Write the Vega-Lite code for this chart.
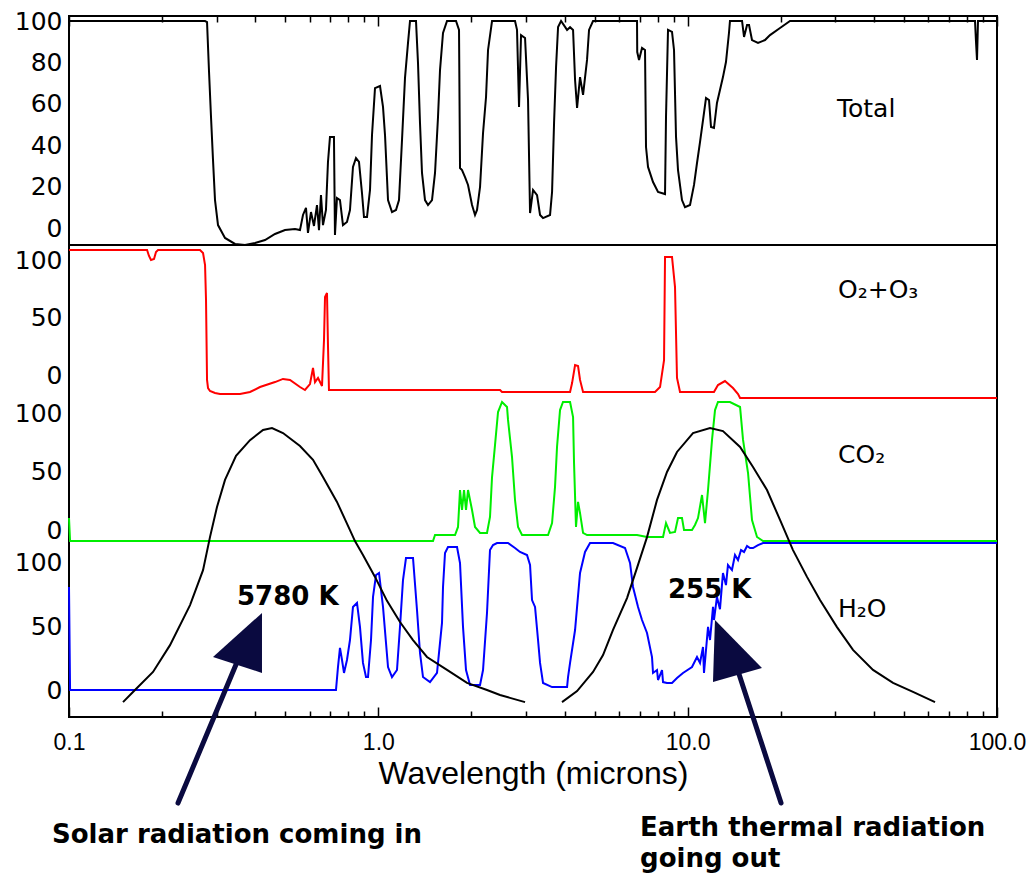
{
  "$schema": "https://vega.github.io/schema/vega-lite/v6.json",
  "autosize": {"type": "none"},
  "width": 928,
  "height": 701,
  "padding": {"left": 69, "top": 16, "right": 38, "bottom": 158},
  "background": "white",
  "config": {
    "view": {"stroke": "black", "strokeWidth": 2},
    "axis": {"grid": false, "domain": false}
  },
  "datasets": {
    "total": [
      {"w":0.1,"v":100},{"w":0.2753,"v":100},{"w":0.2794,"v":99.5},{"w":0.2836,"v":75.4},{"w":0.2878,"v":53.6},{"w":0.2921,"v":32.9},{"w":0.2965,"v":13.5},{"w":0.3032,"v":1.4},{"w":0.3194,"v":-4.8},{"w":0.3441,"v":-7.7},{"w":0.3707,"v":-8.2},{"w":0.3994,"v":-7.2},{"w":0.4302,"v":-5.8},{"w":0.4634,"v":-2.9},{"w":0.4992,"v":-1.0},{"w":0.5378,"v":-0.5},{"w":0.5581,"v":-1.0},{"w":0.5707,"v":6.3},{"w":0.5836,"v":9.7},{"w":0.5923,"v":-2.4},{"w":0.6057,"v":7.7},{"w":0.6194,"v":1.0},{"w":0.6334,"v":11.1},{"w":0.6429,"v":-1.0},{"w":0.6525,"v":15.9},{"w":0.6623,"v":1.4},{"w":0.6772,"v":8.7},{"w":0.6874,"v":31.9},{"w":0.6977,"v":44.0},{"w":0.7187,"v":44.0},{"w":0.7241,"v":-3.4},{"w":0.735,"v":14.5},{"w":0.7516,"v":13.5},{"w":0.7686,"v":1.4},{"w":0.7918,"v":2.9},{"w":0.8097,"v":8.7},{"w":0.828,"v":29.5},{"w":0.8467,"v":33.8},{"w":0.8659,"v":31.9},{"w":0.8854,"v":16.9},{"w":0.8987,"v":5.3},{"w":0.9191,"v":5.3},{"w":0.9399,"v":18.4},{"w":0.954,"v":44.9},{"w":0.9755,"v":67.6},{"w":1.0125,"v":68.6},{"w":1.0354,"v":58.5},{"w":1.051,"v":44.9},{"w":1.0747,"v":13.5},{"w":1.1071,"v":7.7},{"w":1.1405,"v":8.7},{"w":1.1663,"v":13.5},{"w":1.1927,"v":42.5},{"w":1.2196,"v":72.5},{"w":1.2472,"v":89.4},{"w":1.2659,"v":100},{"w":1.3236,"v":100},{"w":1.3435,"v":79.7},{"w":1.3636,"v":50.7},{"w":1.3841,"v":26.6},{"w":1.4154,"v":13.5},{"w":1.4474,"v":11.1},{"w":1.4912,"v":13.5},{"w":1.5249,"v":26.6},{"w":1.5593,"v":53.6},{"w":1.5827,"v":76.3},{"w":1.6184,"v":94.2},{"w":1.6673,"v":100},{"w":1.7829,"v":100},{"w":1.8232,"v":95.7},{"w":1.8368,"v":29.0},{"w":1.8644,"v":28.0},{"w":1.9066,"v":24.6},{"w":1.9497,"v":20.8},{"w":2.0086,"v":11.1},{"w":2.0539,"v":6.3},{"w":2.0848,"v":8.7},{"w":2.132,"v":19.8},{"w":2.1801,"v":45.9},{"w":2.2293,"v":63.3},{"w":2.2628,"v":86.0},{"w":2.3311,"v":100},{"w":2.766,"v":100},{"w":2.8076,"v":95.7},{"w":2.85,"v":58.5},{"w":2.8929,"v":93.2},{"w":2.9805,"v":91.8},{"w":3.0477,"v":61.8},{"w":3.0936,"v":7.2},{"w":3.1634,"v":18.4},{"w":3.259,"v":15.9},{"w":3.3325,"v":6.3},{"w":3.4077,"v":4.8},{"w":3.59,"v":6.3},{"w":3.6442,"v":17.4},{"w":3.6989,"v":50.7},{"w":3.7545,"v":77.8},{"w":3.811,"v":97.1},{"w":3.8971,"v":100},{"w":4.0751,"v":95.7},{"w":4.1668,"v":97.0},{"w":4.261,"v":95.7},{"w":4.325,"v":71.5},{"w":4.39,"v":58.0},{"w":4.488,"v":72.9},{"w":4.59,"v":64.3},{"w":4.728,"v":81.2},{"w":4.799,"v":95.7},{"w":4.944,"v":100},{"w":6.859,"v":100},{"w":6.87,"v":85.0},{"w":6.962,"v":81.2},{"w":7.119,"v":87.0},{"w":7.28,"v":86.0},{"w":7.334,"v":39.1},{"w":7.444,"v":29.5},{"w":7.727,"v":22.2},{"w":8.02,"v":17.4},{"w":8.449,"v":16.4},{"w":8.511,"v":53.6},{"w":8.639,"v":95.7},{"w":8.9,"v":94.7},{"w":9.034,"v":86.0},{"w":9.17,"v":44.0},{"w":9.307,"v":28.0},{"w":9.586,"v":13.5},{"w":9.803,"v":10.1},{"w":10.177,"v":11.1},{"w":10.484,"v":20.8},{"w":10.72,"v":31.4},{"w":10.962,"v":41.5},{"w":11.293,"v":55.6},{"w":11.463,"v":62.8},{"w":11.722,"v":61.8},{"w":11.898,"v":48.8},{"w":12.163,"v":48.3},{"w":12.437,"v":60.4},{"w":12.718,"v":66.7},{"w":13.005,"v":72.9},{"w":13.299,"v":80.2},{"w":13.599,"v":94.2},{"w":13.701,"v":100},{"w":14.99,"v":100},{"w":15.214,"v":92.3},{"w":15.558,"v":98.1},{"w":15.79,"v":98.1},{"w":16.144,"v":90.8},{"w":16.881,"v":89.4},{"w":17.783,"v":90.8},{"w":18.459,"v":93.2},{"w":19.887,"v":96.6},{"w":21.425,"v":100},{"w":84.9,"v":100},{"w":85.53,"v":90.0},{"w":86.17,"v":81.2},{"w":86.81,"v":100},{"w":100,"v":100}
    ],
    "o2": [
      {"w":0.1,"v":100},{"w":0.1788,"v":100},{"w":0.1814,"v":95.8},{"w":0.1841,"v":93.0},{"w":0.1883,"v":93.7},{"w":0.1911,"v":98.6},{"w":0.194,"v":100},{"w":0.2651,"v":100},{"w":0.2712,"v":97.9},{"w":0.2753,"v":89.4},{"w":0.2773,"v":64.8},{"w":0.2794,"v":8.5},{"w":0.2815,"v":2.8},{"w":0.2856,"v":0.7},{"w":0.2965,"v":-0.7},{"w":0.3077,"v":-1.4},{"w":0.3571,"v":-1.4},{"w":0.3847,"v":0},{"w":0.4144,"v":3.5},{"w":0.4634,"v":7.0},{"w":0.4918,"v":9.2},{"w":0.5182,"v":8.5},{"w":0.5581,"v":3.5},{"w":0.5792,"v":1.4},{"w":0.6012,"v":5.6},{"w":0.6149,"v":16.9},{"w":0.6242,"v":7.0},{"w":0.6383,"v":9.9},{"w":0.6575,"v":4.2},{"w":0.6674,"v":36.6},{"w":0.6724,"v":66.9},{"w":0.6824,"v":69.7},{"w":0.6874,"v":33.1},{"w":0.6925,"v":1.4},{"w":2.474,"v":1.4},{"w":2.511,"v":0},{"w":4.1668,"v":0},{"w":4.23,"v":6.3},{"w":4.325,"v":19.0},{"w":4.422,"v":18.3},{"w":4.488,"v":8.5},{"w":4.59,"v":0},{"w":7.843,"v":0},{"w":8.141,"v":3.5},{"w":8.387,"v":22.5},{"w":8.449,"v":95.1},{"w":8.9,"v":95.1},{"w":9.101,"v":73.9},{"w":9.237,"v":9.9},{"w":9.447,"v":0},{"w":12.163,"v":0},{"w":12.53,"v":4.9},{"w":13.2,"v":7.7},{"w":14.01,"v":2.8},{"w":14.55,"v":-1.4},{"w":14.77,"v":-4.2},{"w":100,"v":-4.2}
    ],
    "co2": [
      {"w":0.1,"v":16.5},{"w":0.1008,"v":0},{"w":1.5023,"v":0},{"w":1.5249,"v":4.3},{"w":1.77,"v":4.3},{"w":1.8097,"v":10.1},{"w":1.8368,"v":36.7},{"w":1.8644,"v":22.3},{"w":1.8923,"v":36.7},{"w":1.9207,"v":22.3},{"w":1.9497,"v":36.7},{"w":2.0086,"v":22.3},{"w":2.0539,"v":10.1},{"w":2.132,"v":5.8},{"w":2.2453,"v":5.8},{"w":2.2961,"v":17.3},{"w":2.3311,"v":46.0},{"w":2.3837,"v":69.1},{"w":2.4376,"v":92.8},{"w":2.5111,"v":100},{"w":2.6062,"v":96.4},{"w":2.6257,"v":87.1},{"w":2.705,"v":60.4},{"w":2.766,"v":29.5},{"w":2.8288,"v":10.1},{"w":2.9147,"v":4.3},{"w":3.5374,"v":4.3},{"w":3.6442,"v":12.9},{"w":3.7252,"v":38.8},{"w":3.7814,"v":67.6},{"w":3.867,"v":94.2},{"w":3.9537,"v":100},{"w":4.1668,"v":100},{"w":4.261,"v":89.2},{"w":4.292,"v":56.1},{"w":4.3551,"v":10.1},{"w":4.422,"v":28.1},{"w":4.488,"v":20.1},{"w":4.59,"v":5.8},{"w":4.728,"v":4.3},{"w":6.859,"v":4.3},{"w":7.389,"v":2.9},{"w":8.325,"v":2.9},{"w":8.511,"v":12.9},{"w":8.769,"v":5.8},{"w":9.101,"v":6.5},{"w":9.307,"v":16.5},{"w":9.586,"v":16.5},{"w":9.732,"v":7.9},{"w":10.327,"v":7.9},{"w":10.56,"v":11.5},{"w":10.8,"v":16.5},{"w":11.128,"v":33.1},{"w":11.378,"v":12.9},{"w":11.636,"v":36.7},{"w":11.987,"v":72.7},{"w":12.258,"v":94.2},{"w":12.53,"v":100},{"w":13.701,"v":100},{"w":14.77,"v":96.4},{"w":15.101,"v":72.7},{"w":15.674,"v":48.9},{"w":16.144,"v":15.1},{"w":16.756,"v":2.9},{"w":17.524,"v":0},{"w":100,"v":0}
    ],
    "h2o": [
      {"w":0.1,"v":70.1},{"w":0.1008,"v":0},{"w":0.7296,"v":0},{"w":0.7405,"v":15.6},{"w":0.7516,"v":28.6},{"w":0.7631,"v":20.4},{"w":0.7745,"v":11.6},{"w":0.7918,"v":20.4},{"w":0.8097,"v":34.0},{"w":0.828,"v":56.5},{"w":0.8531,"v":59.2},{"w":0.8723,"v":42.9},{"w":0.892,"v":18.4},{"w":0.9123,"v":8.8},{"w":0.926,"v":8.8},{"w":0.9469,"v":34.0},{"w":0.9612,"v":63.3},{"w":0.9829,"v":78.2},{"w":1.0051,"v":79.6},{"w":1.0354,"v":56.5},{"w":1.0588,"v":32.0},{"w":1.0747,"v":15.6},{"w":1.1071,"v":8.8},{"w":1.149,"v":13.6},{"w":1.175,"v":42.9},{"w":1.2015,"v":74.8},{"w":1.2286,"v":89.8},{"w":1.2945,"v":89.8},{"w":1.3335,"v":54.4},{"w":1.3636,"v":25.2},{"w":1.3945,"v":8.8},{"w":1.469,"v":5.4},{"w":1.5477,"v":11.6},{"w":1.6063,"v":45.6},{"w":1.6184,"v":70.1},{"w":1.6427,"v":93.2},{"w":1.6798,"v":97.3},{"w":1.7963,"v":97.3},{"w":1.8368,"v":86.4},{"w":1.8782,"v":42.9},{"w":1.9207,"v":13.6},{"w":1.979,"v":3.4},{"w":2.132,"v":3.4},{"w":2.1801,"v":13.6},{"w":2.2453,"v":52.4},{"w":2.2961,"v":95.2},{"w":2.3487,"v":98.6},{"w":2.4194,"v":100},{"w":2.6257,"v":100},{"w":2.766,"v":96.6},{"w":2.8708,"v":93.9},{"w":3.0244,"v":91.8},{"w":3.0936,"v":85.0},{"w":3.1397,"v":61.2},{"w":3.2106,"v":56.5},{"w":3.2832,"v":34.0},{"w":3.3325,"v":18.4},{"w":3.4077,"v":4.8},{"w":3.6442,"v":2.0},{"w":4.0751,"v":2.0},{"w":4.1044,"v":8.8},{"w":4.1668,"v":18.4},{"w":4.325,"v":40.8},{"w":4.39,"v":56.5},{"w":4.488,"v":79.6},{"w":4.658,"v":93.9},{"w":4.8345,"v":100},{"w":5.737,"v":100},{"w":6.2729,"v":96.6},{"w":6.511,"v":86.4},{"w":6.658,"v":70.1},{"w":6.9112,"v":56.5},{"w":7.119,"v":47.6},{"w":7.389,"v":38.8},{"w":7.669,"v":22.4},{"w":7.727,"v":11.6},{"w":7.96,"v":13.6},{"w":8.02,"v":6.8},{"w":8.262,"v":13.6},{"w":8.325,"v":5.4},{"w":8.575,"v":4.8},{"w":8.9,"v":4.8},{"w":9.237,"v":8.2},{"w":9.658,"v":11.6},{"w":10.327,"v":15.6},{"w":10.72,"v":22.4},{"w":10.962,"v":18.4},{"w":11.21,"v":29.3},{"w":11.293,"v":11.6},{"w":11.636,"v":42.9},{"w":11.811,"v":34.0},{"w":12.077,"v":56.5},{"w":12.163,"v":47.6},{"w":12.437,"v":63.3},{"w":12.718,"v":55.0},{"w":13.005,"v":79.6},{"w":13.299,"v":71.4},{"w":13.498,"v":85.0},{"w":13.906,"v":81.6},{"w":14.223,"v":91.8},{"w":14.547,"v":88.4},{"w":14.877,"v":95.2},{"w":15.214,"v":93.9},{"w":15.558,"v":98.0},{"w":15.906,"v":96.6},{"w":16.265,"v":96.6},{"w":16.881,"v":98.6},{"w":17.524,"v":100},{"w":100,"v":100}
    ],
    "planck": [
      {"curve":"5780 K","w":0.1495,"v":2.8},{"curve":"5780 K","w":0.161,"v":6.4},{"curve":"5780 K","w":0.1869,"v":13.5},{"curve":"5780 K","w":0.2121,"v":23.0},{"curve":"5780 K","w":0.2462,"v":37.2},{"curve":"5780 K","w":0.2712,"v":49.6},{"curve":"5780 K","w":0.2856,"v":61.3},{"curve":"5780 K","w":0.3009,"v":72.0},{"curve":"5780 K","w":0.3194,"v":81.6},{"curve":"5780 K","w":0.3467,"v":90.1},{"curve":"5780 K","w":0.3847,"v":95.7},{"curve":"5780 K","w":0.4239,"v":99.3},{"curve":"5780 K","w":0.4532,"v":100},{"curve":"5780 K","w":0.4918,"v":98.2},{"curve":"5780 K","w":0.5581,"v":93.6},{"curve":"5780 K","w":0.6149,"v":88.7},{"curve":"5780 K","w":0.6623,"v":82.6},{"curve":"5780 K","w":0.735,"v":73.8},{"curve":"5780 K","w":0.8097,"v":63.8},{"curve":"5780 K","w":0.8404,"v":59.9},{"curve":"5780 K","w":0.892,"v":55.0},{"curve":"5780 K","w":0.9755,"v":47.2},{"curve":"5780 K","w":1.0666,"v":38.7},{"curve":"5780 K","w":1.175,"v":31.2},{"curve":"5780 K","w":1.2945,"v":24.8},{"curve":"5780 K","w":1.4366,"v":18.8},{"curve":"5780 K","w":1.6673,"v":14.2},{"curve":"5780 K","w":1.935,"v":9.6},{"curve":"5780 K","w":2.2453,"v":7.1},{"curve":"5780 K","w":2.474,"v":5.3},{"curve":"5780 K","w":2.665,"v":4.3},{"curve":"5780 K","w":2.9805,"v":2.8},
      {"curve":"255 K","w":3.925,"v":2.8},{"curve":"255 K","w":4.39,"v":6.7},{"curve":"255 K","w":4.944,"v":13.5},{"curve":"255 K","w":5.326,"v":19.5},{"curve":"255 K","w":5.737,"v":28.4},{"curve":"255 K","w":6.367,"v":39.7},{"curve":"255 K","w":6.859,"v":50.4},{"curve":"255 K","w":7.389,"v":61.3},{"curve":"255 K","w":7.96,"v":74.5},{"curve":"255 K","w":8.575,"v":84.4},{"curve":"255 K","w":9.237,"v":91.5},{"curve":"255 K","w":10.406,"v":98.2},{"curve":"255 K","w":11.811,"v":100},{"curve":"255 K","w":13.005,"v":98.9},{"curve":"255 K","w":14.77,"v":93.3},{"curve":"255 K","w":16.265,"v":86.2},{"curve":"255 K","w":18.05,"v":78.0},{"curve":"255 K","w":19.887,"v":67.4},{"curve":"255 K","w":21.904,"v":56.7},{"curve":"255 K","w":24.311,"v":47.2},{"curve":"255 K","w":26.781,"v":39.0},{"curve":"255 K","w":30.389,"v":29.4},{"curve":"255 K","w":34.234,"v":21.3},{"curve":"255 K","w":39.737,"v":14.2},{"curve":"255 K","w":46.117,"v":9.6},{"curve":"255 K","w":53.515,"v":6.4},{"curve":"255 K","w":63.051,"v":2.8}
    ],
    "shafts": [
      {"arrow":"solar","w":0.2251,"v":-76.9},{"arrow":"solar","w":0.3571,"v":23.8},
      {"arrow":"earth","w":20.04,"v":-76.9},{"arrow":"earth","w":14.44,"v":15.0}
    ],
    "temps": [
      {"w":0.3492,"v":57.8,"label":"5780 K"},
      {"w":8.639,"v":62.6,"label":"255 K"}
    ],
    "captions": [
      {"w":0.0881,"v":-104.1,"label":"Solar radiation coming in"},
      {"w":7.014,"v":-99.3,"label":"Earth thermal radiation"},
      {"w":7.014,"v":-120.4,"label":"going out"}
    ]
  },
  "resolve": {"scale": {"y": "independent"}, "axis": {"y": "independent", "x": "independent"}},
  "layer": [
    {
      "data": {"values": [{}]},
      "mark": {"type": "rule", "opacity": 0},
      "encoding": {
        "x": {"datum": 1, "type": "quantitative",
          "scale": {"type": "log", "domain": [0.1, 100], "nice": false},
          "axis": {
            "orient": "bottom",
            "values": [0.1,0.2,0.3,0.4,0.5,0.6,0.7,0.8,0.9,1,2,3,4,5,6,7,8,9,10,20,30,40,50,60,70,80,90,100],
            "labelExpr": "datum.value == 0.1 ? '0.1' : datum.value == 1 ? '1.0' : datum.value == 10 ? '10.0' : datum.value == 100 ? '100.0' : ''",
            "tickSize": {"condition": {"test": "datum.value == 0.1 || datum.value == 1 || datum.value == 10 || datum.value == 100", "value": -10}, "value": -6},
            "tickColor": "black", "tickWidth": 1.5,
            "labelFont": "Liberation Sans", "labelFontSize": 23, "labelColor": "black",
            "labelPadding": 24, "labelFlush": false, "labelOverlap": false,
            "title": "Wavelength (microns)", "titleFont": "Liberation Sans", "titleFontSize": 32,
            "titleFontWeight": "normal", "titleColor": "black", "titlePadding": 0
          }
        }
      }
    },
    {
      "data": {"values": [{}]},
      "mark": {"type": "rule", "opacity": 0},
      "encoding": {
        "x": {"datum": 1, "type": "quantitative",
          "scale": {"type": "log", "domain": [0.1, 100], "nice": false},
          "axis": {
            "orient": "top",
            "values": [0.1,0.2,0.3,0.4,0.5,0.6,0.7,0.8,0.9,1,2,3,4,5,6,7,8,9,10,20,30,40,50,60,70,80,90,100],
            "labels": false,
            "tickSize": {"condition": {"test": "datum.value == 0.1 || datum.value == 1 || datum.value == 10 || datum.value == 100", "value": -10}, "value": -6},
            "tickColor": "black", "tickWidth": 1.5, "title": null
          }
        }
      }
    },
    {
      "data": {"values": [{}]},
      "mark": {"type": "rule", "opacity": 0},
      "encoding": {
        "y": {"datum": 0, "type": "quantitative",
          "scale": {"domain": [0, 100], "range": [212, 5], "nice": false, "zero": false},
          "axis": {"orient": "left", "values": [0, 20, 40, 60, 80, 100], "ticks": false,
            "labelFont": "DejaVu Sans", "labelFontSize": 25, "labelColor": "black", "labelPadding": 7, "title": null}}
      }
    },
    {
      "layer": [
        {
          "data": {"name": "total"},
          "mark": {"type": "line", "color": "black", "strokeWidth": 2},
          "encoding": {
            "x": {"field": "w", "type": "quantitative", "scale": {"type": "log", "domain": [0.1, 100], "nice": false}, "axis": null},
            "y": {"field": "v", "type": "quantitative", "scale": {"domain": [0, 100], "range": [212, 5], "nice": false, "zero": false}, "axis": null}
          }
        },
        {
          "data": {"values": [{}]},
          "mark": {"type": "rule", "color": "black", "strokeWidth": 2},
          "encoding": {
            "y": {"datum": -8.2, "type": "quantitative",
              "scale": {"domain": [0, 100], "range": [212, 5], "nice": false, "zero": false}, "axis": null}
          }
        },
        {
          "data": {"values": [{"w": 30.39, "v": 53.6, "label": "Total"}]},
          "mark": {"type": "text", "align": "left", "baseline": "alphabetic", "font": "DejaVu Sans", "fontSize": 25, "color": "black"},
          "encoding": {
            "x": {"field": "w", "type": "quantitative", "scale": {"type": "log", "domain": [0.1, 100], "nice": false}, "axis": null},
            "y": {"field": "v", "type": "quantitative", "scale": {"domain": [0, 100], "range": [212, 5], "nice": false, "zero": false}, "axis": null},
            "text": {"field": "label"}
          }
        }
      ]
    },
    {
      "layer": [
        {
          "data": {"name": "o2"},
          "mark": {"type": "line", "color": "#ff0000", "strokeWidth": 2},
          "encoding": {
            "x": {"field": "w", "type": "quantitative", "scale": {"type": "log", "domain": [0.1, 100], "nice": false}, "axis": null},
            "y": {"field": "v", "type": "quantitative", "scale": {"domain": [0, 100], "range": [376, 234], "nice": false, "zero": false}, "axis": null}
          }
        },
        {
          "data": {"values": [{"w": 30.62, "v": 66.2, "label": "O₂+O₃"}]},
          "mark": {"type": "text", "align": "left", "baseline": "alphabetic", "font": "DejaVu Sans", "fontSize": 25, "color": "black"},
          "encoding": {
            "x": {"field": "w", "type": "quantitative", "scale": {"type": "log", "domain": [0.1, 100], "nice": false}, "axis": null},
            "y": {"field": "v", "type": "quantitative", "scale": {"domain": [0, 100], "range": [376, 234], "nice": false, "zero": false}, "axis": null},
            "text": {"field": "label"}
          }
        }
      ]
    },
    {
      "data": {"values": [{}]},
      "mark": {"type": "rule", "opacity": 0},
      "encoding": {
        "y": {"datum": 0, "type": "quantitative",
          "scale": {"domain": [0, 100], "range": [359, 244], "nice": false, "zero": false},
          "axis": {"orient": "left", "values": [0, 50, 100], "ticks": false,
            "labelFont": "DejaVu Sans", "labelFontSize": 25, "labelColor": "black", "labelPadding": 7, "title": null}}
      }
    },
    {
      "layer": [
        {
          "data": {"name": "co2"},
          "mark": {"type": "line", "color": "#00ee00", "strokeWidth": 2},
          "encoding": {
            "x": {"field": "w", "type": "quantitative", "scale": {"type": "log", "domain": [0.1, 100], "nice": false}, "axis": null},
            "y": {"field": "v", "type": "quantitative", "scale": {"domain": [0, 100], "range": [525, 386], "nice": false, "zero": false}, "axis": null}
          }
        },
        {
          "data": {"values": [{"w": 30.62, "v": 56.1, "label": "CO₂"}]},
          "mark": {"type": "text", "align": "left", "baseline": "alphabetic", "font": "DejaVu Sans", "fontSize": 25, "color": "black"},
          "encoding": {
            "x": {"field": "w", "type": "quantitative", "scale": {"type": "log", "domain": [0.1, 100], "nice": false}, "axis": null},
            "y": {"field": "v", "type": "quantitative", "scale": {"domain": [0, 100], "range": [525, 386], "nice": false, "zero": false}, "axis": null},
            "text": {"field": "label"}
          }
        }
      ]
    },
    {
      "data": {"values": [{}]},
      "mark": {"type": "rule", "opacity": 0},
      "encoding": {
        "y": {"datum": 0, "type": "quantitative",
          "scale": {"domain": [0, 100], "range": [514, 397], "nice": false, "zero": false},
          "axis": {"orient": "left", "values": [0, 50, 100], "ticks": false,
            "labelFont": "DejaVu Sans", "labelFontSize": 25, "labelColor": "black", "labelPadding": 7, "title": null}}
      }
    },
    {
      "layer": [
        {
          "data": {"name": "h2o"},
          "mark": {"type": "line", "color": "#0000ff", "strokeWidth": 2},
          "encoding": {
            "x": {"field": "w", "type": "quantitative", "scale": {"type": "log", "domain": [0.1, 100], "nice": false}, "axis": null},
            "y": {"field": "v", "type": "quantitative", "scale": {"domain": [0, 100], "range": [674, 527], "nice": false, "zero": false}, "axis": null}
          }
        },
        {
          "data": {"values": [{"w": 30.62, "v": 49.7, "label": "H₂O"}]},
          "mark": {"type": "text", "align": "left", "baseline": "alphabetic", "font": "DejaVu Sans", "fontSize": 25, "color": "black"},
          "encoding": {
            "x": {"field": "w", "type": "quantitative", "scale": {"type": "log", "domain": [0.1, 100], "nice": false}, "axis": null},
            "y": {"field": "v", "type": "quantitative", "scale": {"domain": [0, 100], "range": [674, 527], "nice": false, "zero": false}, "axis": null},
            "text": {"field": "label"}
          }
        },
        {
          "data": {"name": "temps"},
          "mark": {"type": "text", "align": "left", "baseline": "alphabetic", "font": "DejaVu Sans", "fontSize": 26, "fontWeight": "bold", "color": "black"},
          "encoding": {
            "x": {"field": "w", "type": "quantitative", "scale": {"type": "log", "domain": [0.1, 100], "nice": false}, "axis": null},
            "y": {"field": "v", "type": "quantitative", "scale": {"domain": [0, 100], "range": [674, 527], "nice": false, "zero": false}, "axis": null},
            "text": {"field": "label"}
          }
        },
        {
          "data": {"name": "captions"},
          "mark": {"type": "text", "align": "left", "baseline": "alphabetic", "font": "DejaVu Sans", "fontSize": 26, "fontWeight": "bold", "color": "black"},
          "encoding": {
            "x": {"field": "w", "type": "quantitative", "scale": {"type": "log", "domain": [0.1, 100], "nice": false}, "axis": null},
            "y": {"field": "v", "type": "quantitative", "scale": {"domain": [0, 100], "range": [674, 527], "nice": false, "zero": false}, "axis": null},
            "text": {"field": "label"}
          }
        },
        {
          "data": {"name": "shafts"},
          "mark": {"type": "line", "color": "#0a0a40", "strokeWidth": 5, "strokeCap": "round"},
          "encoding": {
            "x": {"field": "w", "type": "quantitative", "scale": {"type": "log", "domain": [0.1, 100], "nice": false}, "axis": null},
            "y": {"field": "v", "type": "quantitative", "scale": {"domain": [0, 100], "range": [674, 527], "nice": false, "zero": false}, "axis": null},
            "detail": {"field": "arrow"}
          }
        },
        {
          "data": {"values": [{"w": 0.3734, "v": 28.6}]},
          "mark": {"type": "point", "shape": "M0.457,-1L-0.943,0.257L0.457,0.714Z", "size": 4900, "filled": true, "color": "#0a0a40", "opacity": 1, "strokeWidth": 0},
          "encoding": {
            "x": {"field": "w", "type": "quantitative", "scale": {"type": "log", "domain": [0.1, 100], "nice": false}, "axis": null},
            "y": {"field": "v", "type": "quantitative", "scale": {"domain": [0, 100], "range": [674, 527], "nice": false, "zero": false}, "axis": null}
          }
        },
        {
          "data": {"values": [{"w": 13.70, "v": 22.4}]},
          "mark": {"type": "point", "shape": "M-0.405,-1L-0.459,0.676L0.865,0.297Z", "size": 5476, "filled": true, "color": "#0a0a40", "opacity": 1, "strokeWidth": 0},
          "encoding": {
            "x": {"field": "w", "type": "quantitative", "scale": {"type": "log", "domain": [0.1, 100], "nice": false}, "axis": null},
            "y": {"field": "v", "type": "quantitative", "scale": {"domain": [0, 100], "range": [674, 527], "nice": false, "zero": false}, "axis": null}
          }
        }
      ]
    },
    {
      "data": {"values": [{}]},
      "mark": {"type": "rule", "opacity": 0},
      "encoding": {
        "y": {"datum": 0, "type": "quantitative",
          "scale": {"domain": [0, 100], "range": [674, 546], "nice": false, "zero": false},
          "axis": {"orient": "left", "values": [0, 50, 100], "ticks": false,
            "labelFont": "DejaVu Sans", "labelFontSize": 25, "labelColor": "black", "labelPadding": 7, "title": null}}
      }
    },
    {
      "data": {"name": "planck"},
      "mark": {"type": "line", "color": "black", "strokeWidth": 2},
      "encoding": {
        "x": {"field": "w", "type": "quantitative", "scale": {"type": "log", "domain": [0.1, 100], "nice": false}, "axis": null},
        "y": {"field": "v", "type": "quantitative", "scale": {"domain": [0, 100], "range": [694, 412], "nice": false, "zero": false}, "axis": null},
        "detail": {"field": "curve"}
      }
    }
  ]
}
